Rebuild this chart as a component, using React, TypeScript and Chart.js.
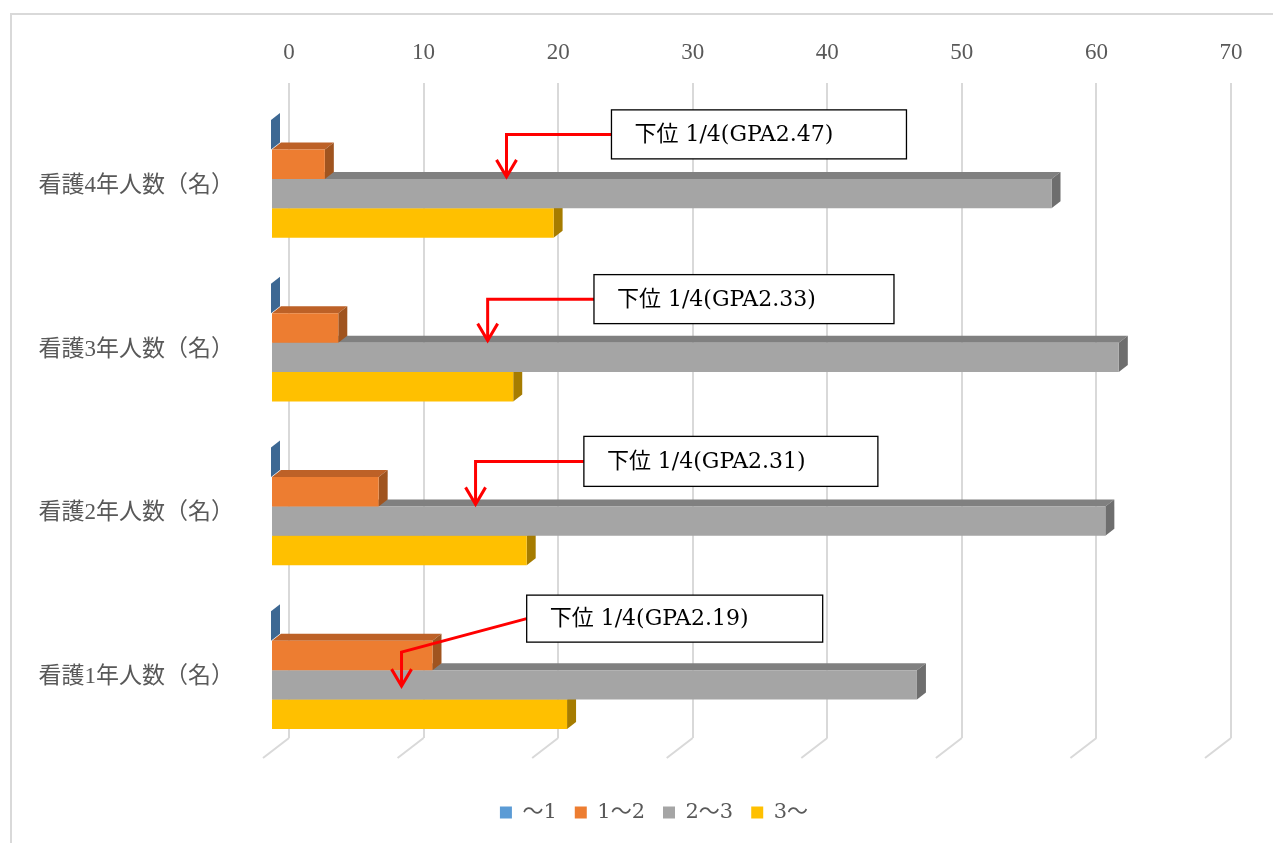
import React, { useEffect, useRef } from 'react';
import Chart from 'chart.js/auto';

// ---- data ----
const categories = ['看護4年人数（名）', '看護3年人数（名）', '看護2年人数（名）', '看護1年人数（名）'];
const seriesNames = ['～1', '1～2', '2～3', '3～'];
const seriesUnder1 = [0, 0, 0, 0];
const series1to2 = [4, 5, 8, 12];
const series2to3 = [58, 63, 62, 48];
const series3up = [21, 18, 19, 22];
const xMin = 0;
const xMax = 70;
const xStep = 10;
const annotationTexts = ['下位 1/4(GPA2.47)', '下位 1/4(GPA2.33)', '下位 1/4(GPA2.31)', '下位 1/4(GPA2.19)'];
const annotationTargets = [17.5, 16.1, 15.2, 9.7];

// ---- styles ----
const FONT = "'Liberation Serif', 'Noto Sans CJK JP', serif";
const FONT_WIDE = "'DejaVu Serif', 'Noto Sans CJK JP', serif";
const frontColors = ['#5B9BD5', '#ED7D31', '#A5A5A5', '#FFC000'];
const topColors = ['#47799F', '#BD6127', '#808080', '#C79600'];
const sideColors = ['#3D6893', '#A0541F', '#6E6E6E', '#A67C00'];
const DEPTH_X = 9;
const DEPTH_Y = 7;
const FRONT_DX = -18;
const FRONT_DY = 14;
const FLOOR_DX = -26;
const FLOOR_DY = 20;
const LEGEND_LEFT = 77;

// annotation layout (pixel offsets relative to each category's front centre)
const annotationLayout = [
  { boxValue: 25.3, boxTop: -69, boxH: 49, boxW: 295, tipDy: -2, bendDy: null as number | null },
  { boxValue: 24.0, boxTop: -68, boxH: 49, boxW: 300, tipDy: -2, bendDy: null as number | null },
  { boxValue: 23.25, boxTop: -70, boxH: 50, boxW: 294, tipDy: -2, bendDy: null as number | null },
  { boxValue: 19.0, boxTop: -75, boxH: 47, boxW: 296, tipDy: 16, bendDy: -18 as number | null },
];

function poly(ctx: CanvasRenderingContext2D, pts: number[][], color: string) {
  ctx.beginPath();
  ctx.moveTo(pts[0][0], pts[0][1]);
  for (let i = 1; i < pts.length; i++) ctx.lineTo(pts[i][0], pts[i][1]);
  ctx.closePath();
  ctx.fillStyle = color;
  ctx.fill();
}

const bar3dPlugin = {
  id: 'bar3d',
  afterLayout(chart: any) {
    if (chart.legend) chart.legend.left = LEGEND_LEFT;
  },
  beforeDatasetsDraw(chart: any) {
    const { ctx, chartArea, scales } = chart;
    const xs = scales.x;
    // floor lines
    ctx.save();
    ctx.strokeStyle = '#d9d9d9';
    ctx.lineWidth = 2;
    xs.ticks.forEach((_t: any, i: number) => {
      const x = xs.getPixelForTick(i);
      ctx.beginPath();
      ctx.moveTo(x, chartArea.bottom);
      ctx.lineTo(x + FLOOR_DX, chartArea.bottom + FLOOR_DY);
      ctx.stroke();
    });
    ctx.restore();

    ctx.save();
    ctx.translate(FRONT_DX, FRONT_DY);
    const metas = chart.getSortedVisibleDatasetMetas();
    // top faces
    metas.forEach((meta: any) => {
      meta.data.forEach((el: any) => {
        const { x, y, base, height } = el.getProps(['x', 'y', 'base', 'height'], true);
        const top = y - height / 2;
        poly(ctx, [[base, top], [x, top], [x + DEPTH_X, top - DEPTH_Y], [base + DEPTH_X, top - DEPTH_Y]], topColors[meta.index]);
      });
    });
    // side faces
    metas.forEach((meta: any) => {
      meta.data.forEach((el: any) => {
        const { x, y, height } = el.getProps(['x', 'y', 'base', 'height'], true);
        const top = y - height / 2;
        const bot = y + height / 2;
        poly(ctx, [[x, top], [x, bot], [x + DEPTH_X, bot - DEPTH_Y], [x + DEPTH_X, top - DEPTH_Y]], sideColors[meta.index]);
      });
    });
    ctx.restore();
    // shift the front faces drawn by chart.js
    ctx.save();
    ctx.translate(FRONT_DX, FRONT_DY);
  },
  afterDatasetsDraw(chart: any) {
    const { ctx, scales } = chart;
    ctx.restore();
    const xs = scales.x;
    const ys = scales.y;
    categories.forEach((_c, i) => {
      const lay = annotationLayout[i];
      const c = ys.getPixelForValue(i) + FRONT_DY;
      const bx = xs.getPixelForValue(lay.boxValue) + FRONT_DX;
      const by = c + lay.boxTop;
      const mid = by + lay.boxH / 2;
      const tx = xs.getPixelForValue(annotationTargets[i]) + FRONT_DX;
      const ty = c + lay.tipDy;
      const bendY = lay.bendDy === null ? mid : c + lay.bendDy;
      ctx.save();
      ctx.strokeStyle = '#FF0000';
      ctx.lineWidth = 3;
      ctx.lineJoin = 'miter';
      ctx.beginPath();
      ctx.moveTo(bx, mid);
      ctx.lineTo(tx, bendY);
      ctx.lineTo(tx, ty);
      ctx.stroke();
      ctx.beginPath();
      ctx.moveTo(tx - 10, ty - 17);
      ctx.lineTo(tx, ty);
      ctx.lineTo(tx + 10, ty - 17);
      ctx.stroke();
      // box
      ctx.fillStyle = '#FFFFFF';
      ctx.fillRect(bx, by, lay.boxW, lay.boxH);
      ctx.strokeStyle = '#000000';
      ctx.lineWidth = 1.3;
      ctx.strokeRect(bx, by, lay.boxW, lay.boxH);
      ctx.fillStyle = '#000000';
      ctx.font = `22px ${FONT_WIDE}`;
      ctx.textAlign = 'left';
      ctx.textBaseline = 'middle';
      ctx.fillText(annotationTexts[i], bx + 23, mid + 1);
      ctx.restore();
    });
  },
};

export default function App() {
  const ref = useRef<HTMLCanvasElement>(null);
  useEffect(() => {
    if (!ref.current) return;
    const seriesValues = [seriesUnder1, series1to2, series2to3, series3up];
    const chart = new Chart(ref.current, {
      type: 'bar',
      data: {
        labels: categories,
        datasets: seriesNames.map((name, i) => ({
          label: name,
          data: seriesValues[i],
          backgroundColor: frontColors[i],
          borderWidth: 0,
          categoryPercentage: 0.72,
          barPercentage: 1.0,
          clip: false as any,
        })),
      },
      options: {
        indexAxis: 'y',
        responsive: false,
        animation: false,
        events: [],
        layout: { padding: { left: 0, right: 42, top: 0, bottom: 10 } },
        scales: {
          x: {
            position: 'top',
            min: xMin,
            max: xMax,
            ticks: { stepSize: xStep, padding: 16, color: '#595959', font: { size: 23, family: FONT } },
            grid: { color: '#d9d9d9', lineWidth: 2, drawTicks: false },
            border: { display: false },
            afterFit: (s: any) => { s.height = 83; },
          },
          y: {
            ticks: { padding: 55, labelOffset: 21, color: '#595959', font: { size: 23, family: FONT } },
            grid: { display: false, drawTicks: false },
            border: { display: false },
            afterFit: (s: any) => { s.width = 289; },
          },
        },
        plugins: {
          tooltip: { enabled: false },
          legend: {
            position: 'bottom',
            title: { display: true, text: '', font: { size: 10, lineHeight: 1 }, padding: { top: 0, bottom: 36 } },
            labels: {
              color: '#595959',
              font: { size: 21, family: FONT_WIDE },
              boxWidth: 12,
              boxHeight: 12,
              padding: 18,
            },
          },
        },
      },
      plugins: [bar3dPlugin],
    } as any);
    return () => chart.destroy();
  }, []);

  return (
    <div style={{ position: 'absolute', left: 0, top: 0, width: 1273, height: 843, overflow: 'hidden', background: '#fff' }}>
      <div style={{ position: 'absolute', left: 10, top: 13, width: 1400, height: 1000, border: '2px solid #d9d9d9', boxSizing: 'border-box' }} />
      <canvas ref={ref} width={1273} height={843} style={{ position: 'absolute', left: 0, top: 0, display: 'block' }} />
    </div>
  );
}
